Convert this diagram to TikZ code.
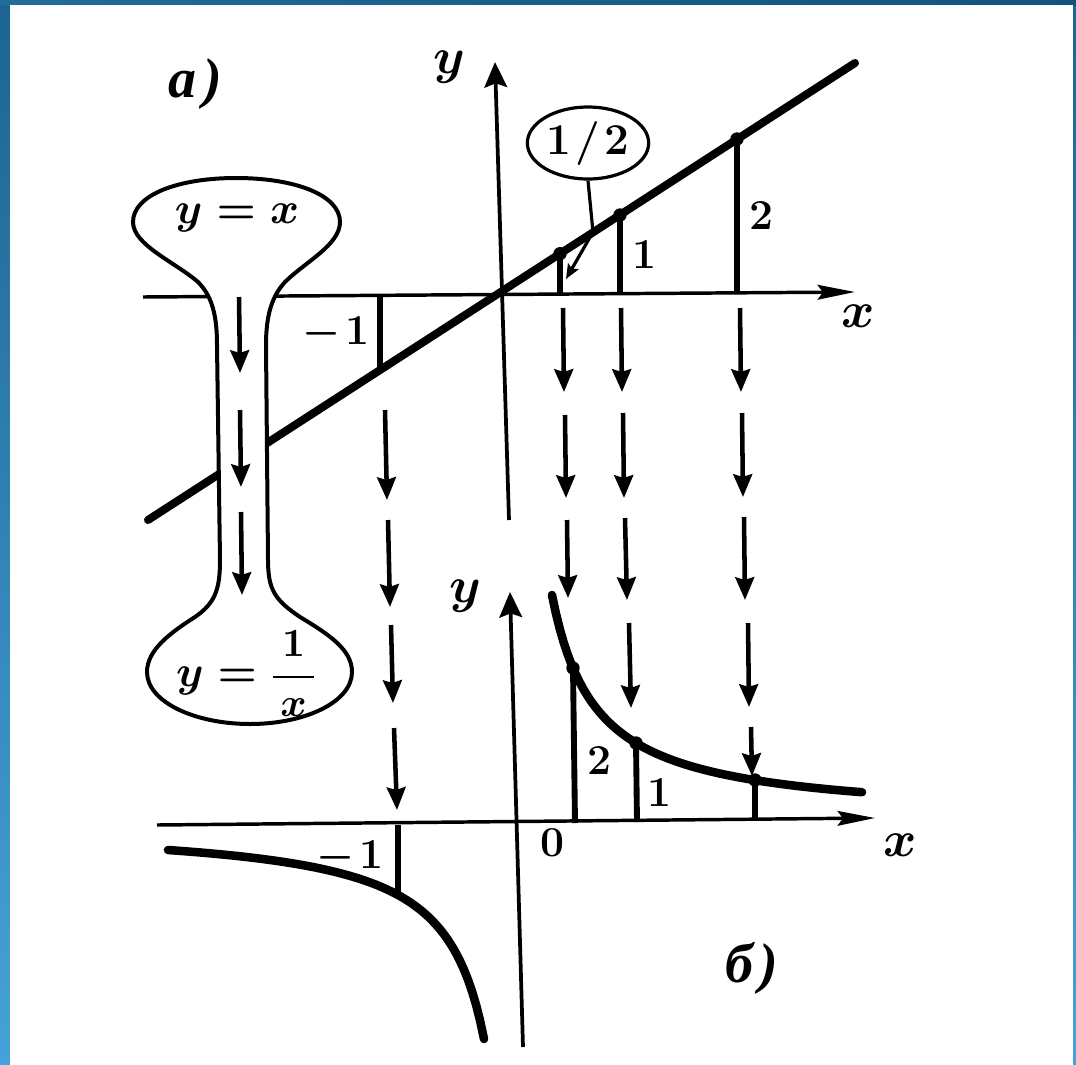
\documentclass[tikz,border=0pt]{standalone}
\usepackage{amsmath}
\usepackage{fontspec}
\DeclareFontShape{OML}{cmm}{m}{it}{<->cmmi10}{}
\DeclareFontShape{OML}{cmm}{b}{it}{<->cmmib10}{}
\DeclareFontShape{OMS}{cmsy}{m}{n}{<->cmsy10}{}
\DeclareFontShape{OMS}{cmsy}{b}{n}{<->cmbsy10}{}
\DeclareFontShape{OMX}{cmex}{m}{n}{<->cmex10}{}
\DeclareFontShape{OT1}{cmr}{m}{n}{<->cmr10}{}
\DeclareFontShape{OT1}{cmr}{bx}{n}{<->cmbx10}{}
\newfontfamily\cyrfont{Liberation Serif}
\usetikzlibrary{arrows.meta,shapes.geometric}
\definecolor{bordtop}{RGB}{28,100,145}
\definecolor{bordbot}{RGB}{70,162,218}
\definecolor{stripL}{RGB}{32,108,155}
\definecolor{stripR}{RGB}{18,82,128}
\tikzset{
 axisx/.style={line width=2.6pt,-{Stealth[length=28pt,width=11pt,inset=4pt]}},
 axisy/.style={line width=2.8pt,-{Stealth[length=19pt,width=17pt,inset=3pt]}},
 graph/.style={line width=6pt,line cap=round},
 ordinate/.style={line width=4.4pt},
 flow/.style={line width=3.4pt,-{Stealth[length=17pt,width=14pt,inset=2pt]}},
 dot/.style={circle,fill=black,inner sep=0pt,minimum size=10pt},
 lab/.style={inner sep=0pt,font=\fontsize{33}{38}\selectfont\boldmath},
 axlab/.style={inner sep=0pt,font=\fontsize{38}{44}\selectfont\boldmath},
 num/.style={inner sep=0pt,font=\fontsize{32}{36}\selectfont\bfseries\boldmath},
 part/.style={inner sep=0pt,font=\fontsize{42}{48}\selectfont\cyrfont\bfseries\itshape},
 outline/.style={line width=3pt},
 callout/.style={draw,ellipse,line width=2.4pt,minimum width=91pt,minimum height=54pt,inner sep=0pt,font=\fontsize{33}{38}\selectfont\bfseries},
}
\begin{document}
\begin{tikzpicture}[x=0.75pt,y=-0.75pt]
\useasboundingbox (0,0) rectangle (1076,1065);
% frame
\shade[top color=bordtop,bottom color=bordbot] (0,0) rectangle (1076,1065);
\shade[left color=stripL,right color=stripR] (0,0) rectangle (1076,5);
\fill[white] (10,5) rectangle (1073,1065);

% ---------- upper graph (a) ----------
\coordinate (OX1) at (143,297);
\coordinate (EX1) at (855,292);
\coordinate (OY1) at (509,520);
\coordinate (EY1) at (495,62);
\draw[axisx] (OX1) -- (EX1);
\draw[axisy] (OY1) -- (EY1);
\coordinate (L1) at (148,520);
\coordinate (L2) at (855,63);
\draw[graph] (L1) -- (L2);

\coordinate (P1) at (560,253.7);
\coordinate (F1) at (560,295.5);
\coordinate (P2) at (620,215);
\coordinate (F2) at (620,295);
\coordinate (P3) at (737,139);
\coordinate (F3) at (737,294);
\coordinate (Pm) at (380,370);
\coordinate (Fm) at (380,296);
\draw[ordinate] (P1) -- (F1);
\draw[ordinate] (P2) -- (F2);
\draw[ordinate] (P3) -- (F3);
\draw[ordinate] (Pm) -- (Fm);
\node[dot] (d1) at (P1) {};
\node[dot] (d2) at (P2) {};
\node[dot] (d3) at (P3) {};

\node[callout] (half) at (588,143) {1\kern3pt/\kern3pt2};
\coordinate (bend) at (593,232);
\coordinate (halftip) at (566,279);
\draw[line width=2.4pt,-{Stealth[length=11pt,width=9pt,inset=2pt]}] (half.south) -- (bend) -- (halftip);

\node[part] (la) at (195,84) {а\kern5pt)};
\node[axlab] (ly1) at (449,67) {$y$};
\node[axlab] (lx1) at (858,316) {$x$};
\node[num] (l1a) at (645,254) {1};
\node[num] (l2a) at (762,215) {2};
\node[num] (lma) at (336,333) {$-$\kern4pt1};

% ---------- lower graph (b) ----------
\coordinate (OX2) at (157,825);
\coordinate (EX2) at (875,818);
\coordinate (OY2) at (523,1047);
\coordinate (EY2) at (510,592);
\draw[axisx] (OX2) -- (EX2);
\draw[axisy] (OY2) -- (EY2);

\coordinate (Q1) at (573,668);
\coordinate (Q2) at (636,743);
\coordinate (Q3) at (755,780);
\coordinate (Qm) at (398,895);
\coordinate (G1) at (575,823);
\coordinate (G2) at (637,822);
\coordinate (G3) at (755,820);
\coordinate (Gm) at (398,825);
\draw[graph,line width=6.4pt] plot[domain=552:862,samples=80] ({\x},{820-9834/(\x-508.3)});
\draw[graph,line width=6.4pt] plot[domain=168:484,samples=80] ({\x},{825+8945/(525.8-\x)});
\draw[ordinate] (Q1) -- (G1);
\draw[ordinate] (Q2) -- (G2);
\draw[ordinate] (Q3) -- (G3);
\draw[ordinate] (Qm) -- (Gm);
\node[dot] (e1) at (Q1) {};
\node[dot] (e2) at (Q2) {};
\node[dot] (e3) at (Q3) {};

\node[axlab] (ly2) at (465,596) {$y$};
\node[axlab] (lx2) at (900,845) {$x$};
\node[num] (l0) at (553,843) {0};
\node[num] (l2b) at (600,760) {2};
\node[num] (l1b) at (660,792) {1};
\node[num] (lmb) at (350,857) {$-$\kern4pt1};
\node[part] (lb) at (752,968) {б\kern5pt)};

% ---------- transfer arrows ----------
% x = -1
\draw[flow] (385,410) -- (387,500);
\draw[flow] (388,520) -- (390,607);
\draw[flow] (391,625) -- (393,703);
\draw[flow] (394,728) -- (397,810);
% x = 1/2
\draw[flow] (563,308) -- (564,392);
\draw[flow] (565,415) -- (566,498);
\draw[flow] (567,520) -- (568,598);
% x = 1
\draw[flow] (621,308) -- (622,392);
\draw[flow] (623,413) -- (624,498);
\draw[flow] (625,518) -- (627,600);
\draw[flow] (629,623) -- (631,708);
% x = 2
\draw[flow] (740,308) -- (741,392);
\draw[flow] (742,413) -- (743,497);
\draw[flow] (744,517) -- (745,600);
\draw[flow] (748,623) -- (749,707);
\draw[flow] (751,727) -- (752,776);

% ---------- dumbbell ----------
\draw[outline,fill=white] (236,178)
 .. controls (295,178) and (340,195) .. (340,222)
 .. controls (340,245) and (305,262) .. (285,282)
 .. controls (272,296) and (266,315) .. (266,345)
 -- (268,560)
 .. controls (268,590) and (275,600) .. (300,617)
 .. controls (330,635) and (352,650) .. (352,672)
 .. controls (352,702) and (305,724) .. (250,724)
 .. controls (195,724) and (147,702) .. (147,672)
 .. controls (147,650) and (170,633) .. (195,617)
 .. controls (215,603) and (220,590) .. (220,560)
 -- (217,345)
 .. controls (217,315) and (212,296) .. (198,282)
 .. controls (175,262) and (133,245) .. (133,222)
 .. controls (133,195) and (178,178) .. (236,178) -- cycle;
\node[lab] (fx) at (237,218) {$y=x$};
\node[lab] (finv) at (246,674) {$y=\text{\fontsize{30}{34}\selectfont$\displaystyle\frac{1}{\,x\,}$}$};
\draw[flow] (239,297) -- (240,373);
\draw[flow] (240,410) -- (241,487);
\draw[flow] (241,512) -- (242,595);
\end{tikzpicture}
\end{document}
